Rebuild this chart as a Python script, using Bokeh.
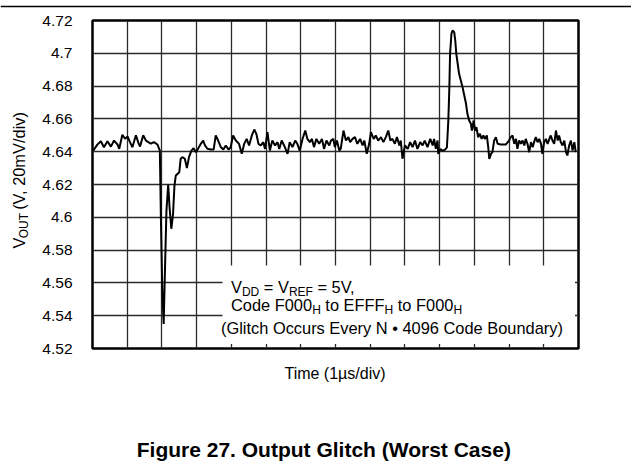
import math
from bokeh.plotting import figure
from bokeh.models import Range1d, FixedTicker, Label, BoxAnnotation, Span, ColumnDataSource
from bokeh.layouts import column, row
from bokeh.embed import file_html
from bokeh.resources import INLINE

# ---------------- data (time in us, output in V) ----------------
time_us = [
    0.02, 0.14, 0.24, 0.33, 0.43, 0.53, 0.62, 0.72, 0.77, 0.86, 0.94, 1.01, 1.08, 1.15,
    1.25, 1.33, 1.37, 1.46, 1.54, 1.61, 1.68, 1.77, 1.87, 1.94,
    1.97, 2.01, 2.05, 2.09, 2.13, 2.18, 2.22, 2.27, 2.32, 2.36, 2.40, 2.50, 2.54, 2.59,
    2.66, 2.72, 2.78, 2.85, 2.91, 2.98, 3.04, 3.12, 3.19, 3.24, 3.31, 3.41, 3.49, 3.55,
    3.62, 3.70, 3.77, 3.84, 3.92, 3.98, 4.05,
    4.13, 4.22, 4.30, 4.37, 4.44, 4.51, 4.59, 4.66, 4.72, 4.78, 4.85, 4.92, 4.97, 5.04,
    5.11, 5.18, 5.26, 5.33, 5.38, 5.45, 5.52, 5.62, 5.68, 5.76, 5.84, 5.90, 5.97, 6.05,
    6.13, 6.19, 6.26, 6.32, 6.38, 6.45, 6.53, 6.61, 6.67, 6.74, 6.82,
    6.87, 6.94, 6.98, 7.04, 7.11, 7.15, 7.23, 7.30, 7.37, 7.42, 7.49, 7.56, 7.63, 7.71,
    7.78, 7.83, 7.90, 7.97, 8.02, 8.10, 8.16, 8.23, 8.31, 8.38, 8.45, 8.52, 8.58, 8.64,
    8.71, 8.77, 8.84, 8.88, 8.93, 9.00, 9.08, 9.15, 9.22, 9.29, 9.36, 9.44, 9.51, 9.57,
    9.65, 9.73,
    9.80, 9.84, 9.89, 9.94, 9.96, 10.02, 10.08, 10.15, 10.21, 10.25, 10.28, 10.30, 10.34,
    10.37, 10.42, 10.45, 10.48, 10.52, 10.56, 10.61, 10.66, 10.71, 10.76, 10.80, 10.85,
    10.90, 10.93, 10.98, 11.02, 11.06, 11.11, 11.16, 11.21, 11.26, 11.30, 11.36, 11.40,
    11.43, 11.48, 11.52, 11.57, 11.62, 11.67, 11.76, 11.91,
    12.00, 12.05, 12.10, 12.15, 12.20, 12.24, 12.29, 12.34, 12.39, 12.44, 12.48, 12.53,
    12.58, 12.63, 12.68, 12.72, 12.77, 12.82, 12.87, 12.92, 12.96, 13.01, 13.06, 13.11,
    13.16, 13.20, 13.25, 13.30, 13.35, 13.40, 13.44, 13.49, 13.54, 13.59, 13.64, 13.68,
    13.73, 13.78, 13.83, 13.88, 13.92,
]
vout_v = [
    4.6407, 4.6443, 4.6464, 4.6427, 4.6464, 4.6431, 4.6468, 4.6444, 4.6418, 4.6503, 4.6479,
    4.6493, 4.6458, 4.6427, 4.6500, 4.6449, 4.6432, 4.6500, 4.6468, 4.6458, 4.6449, 4.6458,
    4.6444, 4.6407,
    4.600, 4.556, 4.535, 4.570, 4.604, 4.620, 4.606, 4.593, 4.602, 4.619, 4.6255, 4.6275,
    4.6357, 4.6367, 4.6357, 4.6300, 4.6367, 4.6407, 4.6421, 4.6397, 4.6418, 4.6448, 4.6468,
    4.6438, 4.6418, 4.6413, 4.6413, 4.6499, 4.6468, 4.6427, 4.6413, 4.6438, 4.6413, 4.6427,
    4.6499,
    4.6468, 4.6448, 4.6387, 4.6448, 4.6478, 4.6438, 4.6499, 4.6535, 4.6509, 4.6448, 4.6438,
    4.6458, 4.6417, 4.6519, 4.6407, 4.6468, 4.6438, 4.6458, 4.6417, 4.6468, 4.6438, 4.6387,
    4.6458, 4.6428, 4.6468, 4.6448, 4.6407, 4.6478, 4.6529, 4.6478, 4.6458, 4.6478, 4.6428,
    4.6478, 4.6448, 4.6478, 4.6417, 4.6468, 4.6438,
    4.6468, 4.6478, 4.6428, 4.6468, 4.6407, 4.6417, 4.6529, 4.6468, 4.6489, 4.6458, 4.6478,
    4.6489, 4.6448, 4.6478, 4.6438, 4.6468, 4.6387, 4.6448, 4.6519, 4.6478, 4.6499, 4.6468,
    4.6489, 4.6458, 4.6489, 4.6529, 4.6468, 4.6478, 4.6448, 4.6489, 4.6438, 4.6468, 4.6357,
    4.6438, 4.6417, 4.6458, 4.6428, 4.6468, 4.6417, 4.6458, 4.6438, 4.6468, 4.6428, 4.6478,
    4.6438, 4.6478, 4.6417, 4.6468, 4.6387, 4.6417, 4.6407, 4.6411, 4.6427, 4.6590, 4.6793,
    4.6997, 4.7119, 4.7139, 4.7129, 4.7078, 4.6997, 4.6936, 4.6875, 4.6834, 4.6793, 4.6743,
    4.6692, 4.6631, 4.6590, 4.6570, 4.6529, 4.6590, 4.6529, 4.6549, 4.6488, 4.6509, 4.6478,
    4.6499, 4.6478, 4.6499, 4.6427, 4.6356, 4.6387, 4.6397, 4.6468, 4.6488, 4.6448, 4.6444,
    4.6444,
    4.6468, 4.6489, 4.6499, 4.6448, 4.6478, 4.6417, 4.6468, 4.6448, 4.6468, 4.6438, 4.6478,
    4.6448, 4.6397, 4.6458, 4.6428, 4.6458, 4.6489, 4.6458, 4.6478, 4.6448, 4.6387, 4.6458,
    4.6478, 4.6448, 4.6478, 4.6499, 4.6468, 4.6448, 4.6529, 4.6468, 4.6499, 4.6458, 4.6438,
    4.6468, 4.6397, 4.6377, 4.6438, 4.6468, 4.6407, 4.6458, 4.6397,
]

x_ticks = list(range(0, 15))
y_ticks = [4.52, 4.54, 4.56, 4.58, 4.60, 4.62, 4.64, 4.66, 4.68, 4.70, 4.72]
y_tick_labels = ["4.52", "4.54", "4.56", "4.58", "4.6", "4.62", "4.64", "4.66", "4.68", "4.7", "4.72"]

y_label_runs = [("V", False), ("OUT", True), (" (V, 20mV/div)", False)]
x_label = "Time (1µs/div)"
fig_title = "Figure 27. Output Glitch (Worst Case)"
note_lines = [
    [("V", False), ("DD", True), (" = V", False), ("REF", True), (" = 5V,", False)],
    [("Code F000", False), ("H", True), (" to EFFF", False), ("H", True),
     (" to F000", False), ("H", True)],
    [("(Glitch Occurs Every N • 4096 Code Boundary)", False)],
]

# ---------------- layout geometry (canvas pixels) ----------------
W, H = 631, 465
TOP_H = 10            # strip holding the page rule
LEFT_W = 36           # strip holding the rotated y label
FL, FR, FT, FB = 92, 578, 20, 348   # plot frame edges
MID_H = 358 - TOP_H   # height of the row holding the plot
BOT_H = H - 358
X0, X1, Y0, Y1 = 0.0, 14.0, 4.52, 4.72
FONT = "Liberation Sans"
MID = 0.3465          # baseline -> middle of em box, in em


def X(px):
    return X0 + (px - FL) / (FR - FL) * (X1 - X0)


def Y(py):
    return Y0 + (FB - py) / (FB - FT) * (Y1 - Y0)


def blank_fig(w, h, xr, yr):
    f = figure(width=w, height=h, output_backend="svg", toolbar_location=None,
               x_range=Range1d(*xr), y_range=Range1d(*yr),
               x_axis_location=None, y_axis_location=None, min_border=0,
               background_fill_color="white", border_fill_color="white")
    f.outline_line_color = None
    f.xgrid.visible = False
    f.ygrid.visible = False
    return f


# ---------------- main plot ----------------
p = figure(width=W - LEFT_W, height=MID_H, output_backend="svg", toolbar_location=None,
           x_range=Range1d(X0, X1), y_range=Range1d(Y0, Y1), x_axis_location=None,
           min_border_left=FL - LEFT_W, min_border_right=W - FR,
           min_border_top=FT - TOP_H, min_border_bottom=358 - FB,
           background_fill_color="white", border_fill_color="white")
p.outline_line_color = "black"
p.outline_line_width = 2.5

p.yaxis.ticker = FixedTicker(ticks=y_ticks)
p.xgrid.ticker = FixedTicker(ticks=x_ticks)
p.ygrid.ticker = FixedTicker(ticks=y_ticks)
for g in (p.xgrid, p.ygrid):
    g.grid_line_color = "#2a2a2a"
    g.grid_line_width = 1.3

p.yaxis.major_label_overrides = {t: s for t, s in zip(y_ticks, y_tick_labels)}
p.yaxis.major_label_text_font = FONT
p.yaxis.major_label_text_font_size = "15.5px"
p.yaxis.major_label_text_color = "black"
p.yaxis.major_label_standoff = 20
p.yaxis.axis_line_color = None
p.yaxis.major_tick_in = 0
p.yaxis.major_tick_out = 0
p.yaxis.minor_tick_line_color = None

# white box behind the condition text (leaves the grid stubs as inner ticks)
p.add_layout(BoxAnnotation(left=X(222), right=X(574.5), bottom=Y(343.5), top=Y(265),
                           fill_color="white", fill_alpha=1.0, line_alpha=0,
                           level="glyph"))

src = ColumnDataSource(data=dict(t=time_us, v=vout_v))
p.line("t", "v", source=src, line_color="black", line_width=2)

# ---------------- text helpers (Arial / Liberation Sans metrics) ----------------
AW = {' ': 278, '\u00a0': 278, '=': 584, ',': 278, '.': 278, '(': 333, ')': 333, '/': 278,
      '•': 350, 'A': 667, 'B': 667, 'C': 722, 'D': 722, 'E': 667, 'F': 611, 'G': 778,
      'H': 722, 'N': 722, 'O': 778, 'R': 722, 'T': 611, 'U': 722, 'V': 667,
      'a': 556, 'c': 500, 'd': 556, 'e': 556, 'h': 556, 'i': 222, 'l': 222, 'm': 833,
      'n': 556, 'o': 556, 'r': 333, 's': 500, 't': 278, 'u': 556, 'v': 500, 'y': 500}
for ch in "0123456789":
    AW[ch] = 556


def width(s, size):
    return sum(AW.get(c, 556) for c in s) * size / 1000.0


MAIN, SUB, SUBDROP = 16.4, 12.0, 3.5


def nb(s):
    return s.replace(" ", "\u00a0")


def rich_h(fig, runs, px, py, fx, fy):
    """runs laid out left to right; px = left edge, py = baseline (canvas px)"""
    x = px
    for s, sub in runs:
        size = SUB if sub else MAIN
        yy = py + (SUBDROP if sub else 0) - MID * size
        fig.add_layout(Label(x=fx(x), y=fy(yy), text=nb(s), text_font=FONT,
                             text_font_size=f"{size}px", text_color="black",
                             text_align="left", text_baseline="middle"))
        x += width(s, size)


def rich_v(fig, runs, px, py):
    """runs rotated 90deg ccw; px = baseline x, py = start (bottom) y (canvas px)"""
    y = py
    for s, sub in runs:
        size = SUB if sub else MAIN
        xx = px + (SUBDROP if sub else 0) - MID * size
        fig.add_layout(Label(x=xx, y=y, text=nb(s), text_font=FONT,
                             text_font_size=f"{size}px", text_color="black",
                             angle=math.pi / 2, text_align="left",
                             text_baseline="middle"))
        y -= width(s, size)


rich_h(p, note_lines[0], 230.5, 291.7, X, Y)
rich_h(p, note_lines[1], 230.5, 310.0, X, Y)
rich_h(p, note_lines[2], 220.5, 332.7, X, Y)

# ---------------- surrounding strips ----------------
top = blank_fig(W, TOP_H, (0, W), (TOP_H, 0))
top.add_layout(Span(location=4, dimension="width", line_color="black", line_width=1.5))

left = blank_fig(LEFT_W, MID_H, (0, LEFT_W), (358, TOP_H))
rich_v(left, y_label_runs, 24.5, 252)

bottom = blank_fig(W, BOT_H, (0, W), (H, 358))
bottom.add_layout(Label(x=334.5, y=378.3 - MID * 16, text=x_label, text_font=FONT,
                        text_font_size="16px", text_color="black", text_align="center",
                        text_baseline="middle"))
bottom.add_layout(Label(x=323.3, y=456 - MID * 21, text=fig_title, text_font=FONT,
                        text_font_size="21px", text_font_style="bold",
                        text_color="black", text_align="center",
                        text_baseline="middle"))

layout = column(top, row(left, p, spacing=0), bottom, spacing=0)
open("out.html", "w").write(file_html(layout, INLINE))
